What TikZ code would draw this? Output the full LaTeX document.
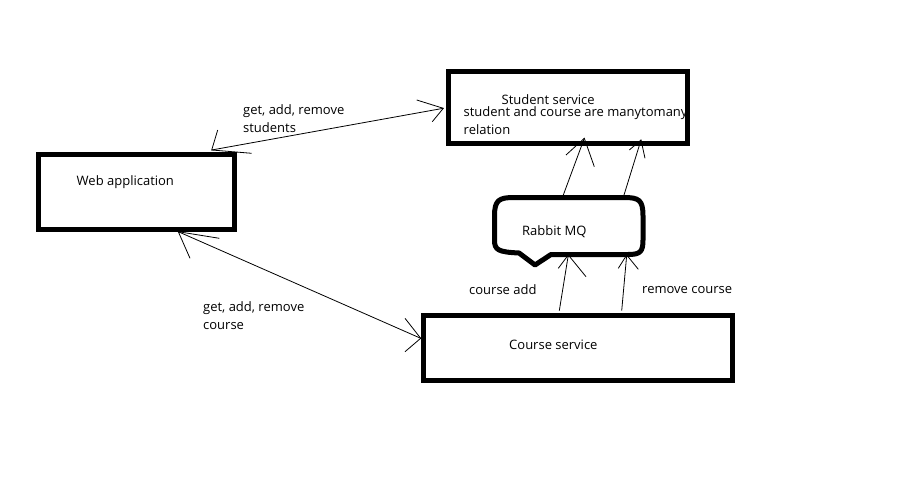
\documentclass[tikz,border=0pt]{standalone}
\usepackage{fontspec}
\setmainfont{Open Sans}
\begin{document}
\begin{tikzpicture}[x=1pt,y=-1pt,
  box/.style={draw=black,line width=5pt},
  lbl/.style={anchor=base west,inner sep=0pt,font=\fontsize{13}{15}\selectfont},
  conn/.style={line width=0.8pt},
  barb/.style={line width=0.8pt}]
\useasboundingbox[fill=white] (0,0) rectangle (920,481);
% boxes
\draw[box] (38,155) rectangle (234,229);
\draw[box] (448,72) rectangle (687.5,143.5);
\draw[box] (423,315) rectangle (732.5,380);
% Rabbit MQ shape
\draw[line width=5pt,line join=round]
  (494.5,216) .. controls (494.5,200) and (499,197.5) .. (514,197.5)
  -- (624,197.5) .. controls (639,197.5) and (643,200) .. (643,216)
  -- (643,240) .. controls (643,252) and (640,254.5) .. (628,254.5)
  -- (551,254.5) -- (535,265) -- (519,253)
  .. controls (498,252) and (494.5,250) .. (494.5,240) -- cycle;
% texts
\node[lbl] (web) at (76.5,185.5) {Web application};
\node[lbl] (stu) at (501.5,105) {Student service};
\node[lbl] (note1) at (463.5,116.5) {student and course are manytomany};
\node[lbl] (note2) at (463.5,134.5) {relation};
\node[lbl] (cou) at (509,349) {Course service};
\node[lbl] (rmq) at (522,235) {Rabbit MQ};
\node[lbl] (cadd) at (469,294) {course add};
\node[lbl] (crem) at (642,293) {remove course};
\node[lbl] (g1a) at (243,115) {get, add, remove};
\node[lbl] (g1b) at (243,132.5) {students};
\node[lbl] (g2a) at (203,311) {get, add, remove};
\node[lbl] (g2b) at (203,329.5) {course};
% connector end points
\coordinate (wsA) at (211.7,150);
\coordinate (wsB) at (443.3,108.3);
\coordinate (wcA) at (178.3,231.7);
\coordinate (wcB) at (420.7,338.3);
\coordinate (rs1A) at (563.3,195);
\coordinate (rs1B) at (584.3,138.3);
\coordinate (rs2A) at (624,195);
\coordinate (rs2B) at (641,140);
\coordinate (cr1A) at (559.3,310.7);
\coordinate (cr1B) at (568.3,255);
\coordinate (cr2A) at (621.7,310.7);
\coordinate (cr2B) at (626.7,255);
% connectors
\draw[conn] (wsA) -- (wsB);
\draw[conn] (wcA) -- (wcB);
\draw[conn] (rs1A) -- (rs1B);
\draw[conn] (rs2A) -- (rs2B);
\draw[conn] (cr1A) -- (cr1B);
\draw[conn] (cr2A) -- (cr2B);
% barbs
\draw[barb] (217.7,130) -- (wsA) -- (251.7,153.3);
\draw[barb] (416.7,100) -- (wsB) -- (432.3,121.7);
\draw[barb] (219.3,238.3) -- (wcA) -- (190,258.3);
\draw[barb] (405,318.3) -- (wcB) -- (405,351.7);
\draw[barb] (566,155) -- (rs1B) -- (594.3,166.7);
\draw[barb] (629.3,150) -- (rs2B) -- (645,158.3);
\draw[barb] (558.3,268.3) -- (cr1B) -- (586,276.7);
\draw[barb] (618.3,268.3) -- (cr2B) -- (638.3,269.3);
\end{tikzpicture}
\end{document}
